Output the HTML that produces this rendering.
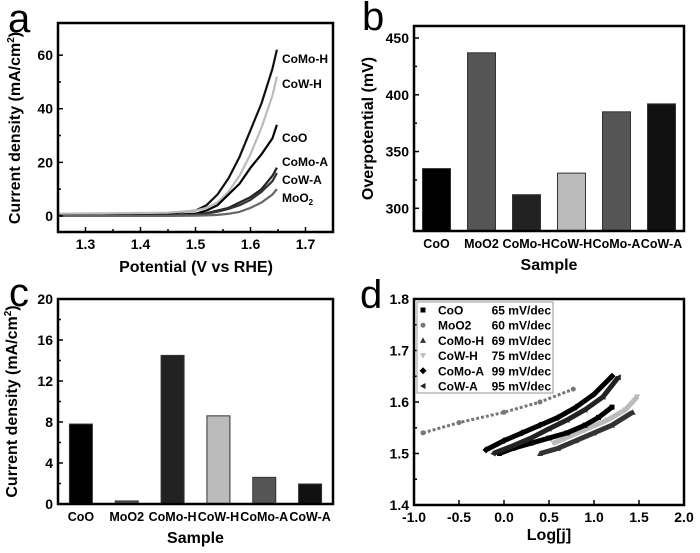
<!DOCTYPE html>
<html><head><meta charset="utf-8"><style>
html,body{margin:0;padding:0;background:#fff;}
svg{display:block;font-family:"Liberation Sans",sans-serif;font-weight:bold;}
</style></head><body>
<svg id="fig" width="700" height="553" viewBox="0 0 700 553"></svg>
<script>
// ---- Panel a data ----
const aX = [1.25,1.45,1.5,1.52,1.54,1.56,1.58,1.6,1.62,1.64,1.648];
const aCoMoH = [0.5,1,2,4,8,14,22,32,42,55,62];
const aCoWH = [0.8,1.2,2,3,5,9,15,23,33,45,52];
const aCoO = [0,0.3,0.8,2,4,8,12,18,23,29,34];
const aCoMoA = [0,0.2,0.5,1,2,3,5,7,10,15,18];
const aCoWA = [0,0.2,0.5,0.9,1.6,2.6,4,6,9,13,16];
const aMoO2 = [0,0,0.1,0.2,0.4,0.8,1.5,3,5,8,10];
const aXTicks = [1.3,1.4,1.5,1.6,1.7];
const aYTicks = [0,20,40,60];
// ---- Panel b data ----
const bCats = ["CoO","MoO2","CoMo-H","CoW-H","CoMo-A","CoW-A"];
const bVals = [335,437,312,331,385,392];
const bYTicks = [300,350,400,450];
// ---- Panel c data ----
const cCats = ["CoO","MoO2","CoMo-H","CoW-H","CoMo-A","CoW-A"];
const cVals = [7.8,0.3,14.5,8.6,2.6,1.95];
const cYTicks = [0,4,8,12,16,20];
// ---- Panel d data ----
const dCoOx = [-0.05,0.1,0.3,0.5,0.7,0.9,1.05,1.2];
const dCoOy = [1.50,1.51,1.52,1.53,1.54,1.555,1.57,1.59];
const dMoO2x = [-0.9,-0.5,0,0.4,0.77];
const dMoO2y = [1.54,1.56,1.58,1.60,1.625];
const dCoMoHx = [0.4,0.6,0.8,1.0,1.2,1.43];
const dCoMoHy = [1.50,1.51,1.525,1.54,1.555,1.58];
const dCoWHx = [0.55,0.75,0.95,1.15,1.35,1.48];
const dCoWHy = [1.52,1.535,1.55,1.565,1.585,1.61];
const dCoMoAx = [-0.2,0,0.2,0.4,0.6,0.8,1.0,1.2];
const dCoMoAy = [1.507,1.525,1.54,1.555,1.57,1.59,1.615,1.65];
const dCoWAx = [-0.12,0.1,0.3,0.5,0.7,0.9,1.1,1.27];
const dCoWAy = [1.50,1.515,1.53,1.548,1.565,1.585,1.61,1.648];
const dXTicks = [-1.0,-0.5,0.0,0.5,1.0,1.5,2.0];
const dYTicks = [1.4,1.5,1.6,1.7,1.8];
const dLegendNames = ["CoO","MoO2","CoMo-H","CoW-H","CoMo-A","CoW-A"];
const dLegendVals = ["65 mV/dec","60 mV/dec","69 mV/dec","75 mV/dec","99 mV/dec","95 mV/dec"];

const svg = document.getElementById('fig');
const NS = 'http://www.w3.org/2000/svg';
function mk(tag, attrs, parent, txt){
  const e = document.createElementNS(NS, tag);
  for (const k in attrs) e.setAttribute(k, attrs[k]);
  if (txt !== undefined) e.textContent = txt;
  (parent||svg).appendChild(e);
  return e;
}
function scale(d0,d1,r0,r1){ return v => r0 + (v-d0)/(d1-d0)*(r1-r0); }
function frame(g,x0,y0,x1,y1){
  const r = mk('rect',{x:x0,y:y0,width:x1-x0,height:y1-y0,fill:'none',stroke:'#000','stroke-width':2.5},g);
  
  
}
function yTicksFn(g,ticks,sy,x0,fmt,minor){
  ticks.forEach((t,i)=>{
    const y = sy(t);
    mk('line',{x1:x0,x2:x0+5,y1:y,y2:y,stroke:'#000','stroke-width':1.5},g);
    const tx = mk('text',{x:x0-5,y:y+5,'text-anchor':'end','font-size':14},g,fmt(t));
    
    
    if (minor && i<ticks.length-1){
      const ym = sy((t+ticks[i+1])/2);
      mk('line',{x1:x0,x2:x0+3,y1:ym,y2:ym,stroke:'#000','stroke-width':1.5},g);
    }
  });
}
function xTicksFn(g,ticks,sx,y0,fmt,minor){
  ticks.forEach((t,i)=>{
    const x = sx(t);
    mk('line',{x1:x,x2:x,y1:y0,y2:y0-5,stroke:'#000','stroke-width':1.5},g);
    const tx = mk('text',{x:x,y:y0+17,'text-anchor':'middle','font-size':14},g,fmt(t));
    
    
    if (minor && i<ticks.length-1){
      const xm = sx((t+ticks[i+1])/2);
      mk('line',{x1:xm,x2:xm,y1:y0,y2:y0-3,stroke:'#000','stroke-width':1.5},g);
    }
  });
}

// ===== Panel a =====
{
  const g = mk('g',{});
  
  
  const X0=58,X1=333,Y0=23,Y1=232;
  const sx = scale(1.25,1.75,X0,X1), sy = scale(-6,72,Y1,Y0);
  const series = [[aCoMoH,'#111','CoMo-H'],[aCoWH,'#bbb','CoW-H'],[aCoO,'#000','CoO'],[aCoMoA,'#222','CoMo-A'],[aCoWA,'#333','CoW-A'],[aMoO2,'#666','MoO2']];
  series.forEach(s=>{
    const p = mk('polyline',{points:aX.map((x,i)=>sx(x)+','+sy(s[0][i])).join(' '),fill:'none',stroke:s[1],'stroke-width':2.2,'stroke-linejoin':'round'},g);
    
    
  });
  frame(g,X0,Y0,X1,Y1);
  yTicksFn(g,aYTicks,sy,X0,t=>String(t),true);
  xTicksFn(g,aXTicks,sx,Y1,t=>t.toFixed(1),true);
  const labs = [['CoMo-H',58],['CoW-H',83],['CoO',137],['CoMo-A',161],['CoW-A',179]];
  labs.forEach(l=>{
    const t = mk('text',{x:282,y:l[1]+5,'font-size':12},g,l[0]);
    
    
  });
  const m = mk('text',{x:282,y:202,'font-size':12},g);
  
  
  m.innerHTML = 'MoO<tspan font-size="8" dy="3">2</tspan>';
  const xt = mk('text',{x:196,y:272,'text-anchor':'middle','font-size':16},g,'Potential (V vs RHE)');
  
  
  const yt = mk('text',{x:0,y:0,'text-anchor':'middle','font-size':16,transform:'translate(20,128) rotate(-90)'},g);
  
  
  yt.innerHTML = 'Current density (mA/cm<tspan font-size="10" dy="-6">2</tspan><tspan dy="6">)</tspan>';
  const pl = mk('text',{x:8,y:32,'font-size':40,'font-weight':'normal'},g,'a');
  
  
}

// ===== Bar panels =====
function barPanel(id,cats,vals,ticks,X0,Y0,X1,Y1,ymin,ymax,bw,colors,ytitle,letter,lx,ly){
  const g = mk('g',{});
  
  
  const sy = scale(ymin,ymax,Y1,Y0);
  const step = (X1-X0)/cats.length;
  cats.forEach((c,i)=>{
    const cx = X0+step*(i+0.5);
    const r = mk('rect',{x:cx-bw/2,y:sy(vals[i]),width:bw,height:Y1-sy(vals[i]),fill:colors[i],stroke:'#333','stroke-width':1},g);
    
    
    const t = mk('text',{x:cx,y:Y1+17,'text-anchor':'middle','font-size':12.5},g,c);
    
    
  });
  frame(g,X0,Y0,X1,Y1);
  yTicksFn(g,ticks,sy,X0,t=>String(t),true);
  const xt = mk('text',{x:(X0+X1)/2,y:Y1+39,'text-anchor':'middle','font-size':16},g,'Sample');
  
  
  const yt = mk('text',{x:0,y:0,'text-anchor':'middle','font-size':16,transform:'translate('+ (X0-41) +','+((Y0+Y1)/2)+') rotate(-90)'},g);
  
  
  yt.innerHTML = ytitle;
  const pl = mk('text',{x:lx,y:ly,'font-size':40,'font-weight':'normal'},g,letter);
  
  
}
barPanel('b',bCats,bVals,bYTicks,414,26,684,231,280,460.6,28,['#000','#555','#222','#bbb','#555','#111'],'Overpotential (mV)','b',362,30);
barPanel('c',cCats,cVals,cYTicks,58,299,333,504,0,20,23,['#000','#555','#222','#bbb','#555','#111'],'Current density (mA/cm<tspan font-size="10" dy="-6">2</tspan><tspan dy="6">)</tspan>','c',9,306);

// ===== Panel d =====
{
  const g = mk('g',{});
  
  
  const X0=414,X1=684,Y0=299,Y1=505;
  const sx = scale(-1,2,X0,X1), sy = scale(1.4,1.8,Y1,Y0);
  function marker(shape,x,y,col,gg){
    if (shape==='sq') return mk('rect',{x:x-2.5,y:y-2.5,width:5,height:5,fill:col},gg);
    if (shape==='ci') return mk('circle',{cx:x,cy:y,r:2.5,fill:col},gg);
    if (shape==='tu') return mk('polygon',{points:`${x},${y-3} ${x-3},${y+2.5} ${x+3},${y+2.5}`,fill:col},gg);
    if (shape==='td') return mk('polygon',{points:`${x},${y+3} ${x-3},${y-2.5} ${x+3},${y-2.5}`,fill:col},gg);
    if (shape==='di') return mk('polygon',{points:`${x},${y-3.5} ${x+3.5},${y} ${x},${y+3.5} ${x-3.5},${y}`,fill:col},gg);
    return mk('polygon',{points:`${x-3},${y} ${x+2.5},${y-3} ${x+2.5},${y+3}`,fill:col},gg);
  }
  const series = [
    [dMoO2x,dMoO2y,'#777','ci','moo2',3],
    [dCoMoHx,dCoMoHy,'#333','tu','como-h',5],
    [dCoWHx,dCoWHy,'#bbb','td','cow-h',5],
    [dCoOx,dCoOy,'#000','sq','coo',5],
    [dCoWAx,dCoWAy,'#222','lt','cow-a',5],
    [dCoMoAx,dCoMoAy,'#000','di','como-a',5]
  ];
  series.forEach(s=>{
    const sg = mk('g',{},g);
    
    
    mk('polyline',{points:s[0].map((x,i)=>sx(x)+','+sy(s[1][i])).join(' '),fill:'none',stroke:s[2],'stroke-width':s[5],'stroke-dasharray':s[3]==='ci'?'3 2':'none','stroke-linejoin':'round'},sg);
    s[0].forEach((x,i)=>{ marker(s[3],sx(x),sy(s[1][i]),s[2],sg); });
  });
  frame(g,X0,Y0,X1,Y1);
  yTicksFn(g,dYTicks,sy,X0,t=>t.toFixed(1),true);
  xTicksFn(g,dXTicks,sx,Y1,t=>t.toFixed(1),false);
  // legend
  const lg = mk('g',{},g);
  
  
  mk('rect',{x:417,y:302,width:136,height:91,fill:'#fff',stroke:'#999','stroke-width':1},lg);
  const shapes=['sq','ci','tu','td','di','lt'], cols=['#000','#777','#333','#bbb','#000','#222'];
  dLegendNames.forEach((n,i)=>{
    const y = 310+i*15.2;
    const e = mk('g',{},lg);
    
    
    marker(shapes[i],423,y,cols[i],e);
    mk('text',{x:438,y:y+4.5,'font-size':12},e,n);
    mk('text',{x:551,y:y+4.5,'font-size':12,'text-anchor':'end'},e,dLegendVals[i]);
  });
  const xt = mk('text',{x:549,y:540,'text-anchor':'middle','font-size':16},g,'Log[j]');
  
  
  const pl = mk('text',{x:360,y:308,'font-size':40,'font-weight':'normal'},g,'d');
  
  
}
</script>
</body></html>
